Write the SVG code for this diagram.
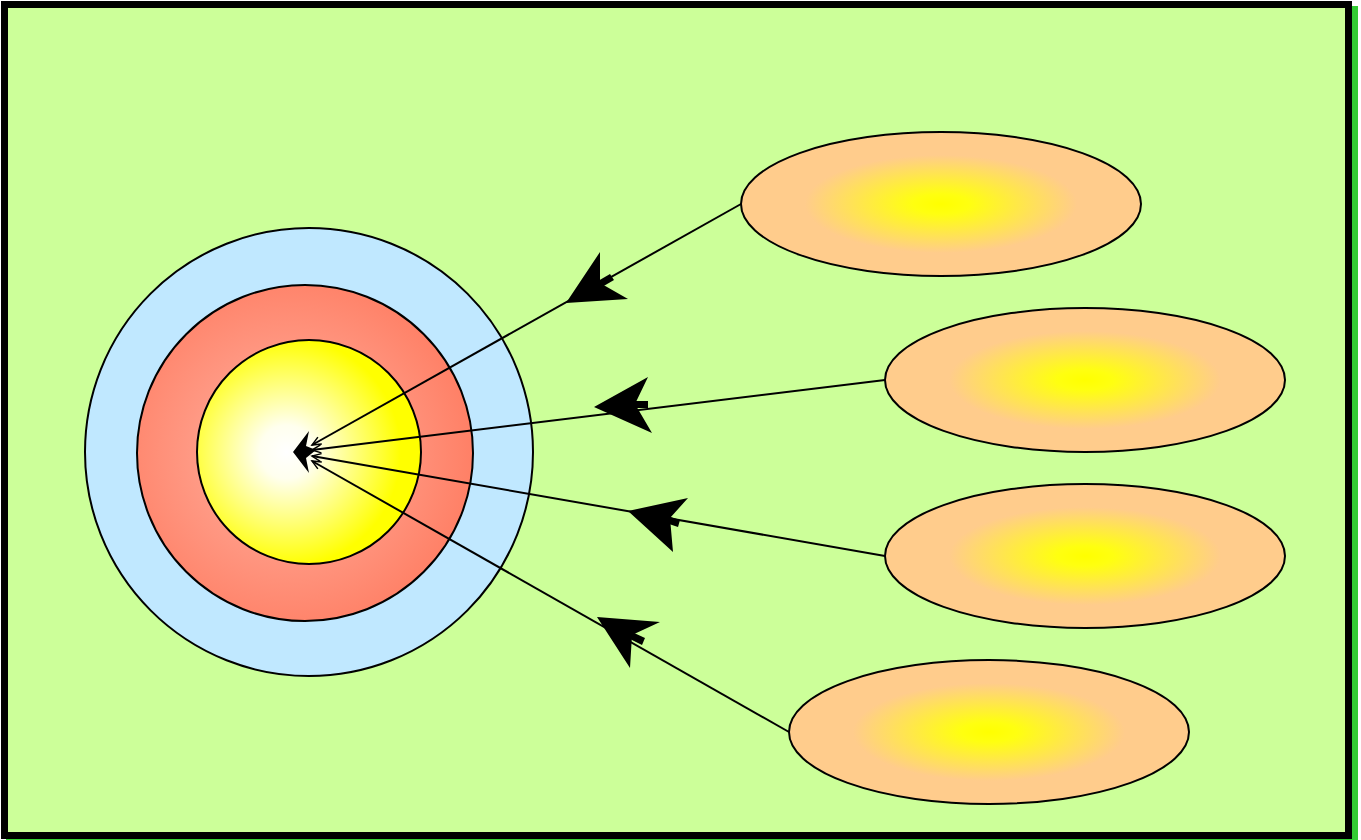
<svg xmlns="http://www.w3.org/2000/svg" width="1361" height="840" viewBox="0 0 1361 840">
<defs>
<radialGradient id="gEll" cx="0.5" cy="0.5" r="0.5">
<stop offset="0" stop-color="#ffff00"/>
<stop offset="0.14" stop-color="#ffff10"/>
<stop offset="0.68" stop-color="#ffcc8c"/>
<stop offset="1" stop-color="#ffcc8c"/>
</radialGradient>
<radialGradient id="gRed" cx="0.45" cy="0.5" r="0.55">
<stop offset="0" stop-color="#ffb4a4"/>
<stop offset="1" stop-color="#ff8066"/>
</radialGradient>
<radialGradient id="gYel" cx="0.4" cy="0.5" r="0.6">
<stop offset="0" stop-color="#ffffff"/>
<stop offset="0.2" stop-color="#ffffee"/>
<stop offset="0.85" stop-color="#ffff00"/>
<stop offset="1" stop-color="#ffff00"/>
</radialGradient>
<marker id="open" viewBox="-10 -6 12 12" refX="0" refY="0" markerWidth="12" markerHeight="12" markerUnits="userSpaceOnUse" orient="auto">
<path d="M -9,-4 L 0,0 L -9,4" fill="none" stroke="#000" stroke-width="1.5"/>
</marker>
</defs>
<style>
.ell{fill:url(#gEll);stroke:#000;stroke-width:2}
.conn{stroke:#000;stroke-width:2;fill:none;marker-end:url(#open)}
.head{fill:#000}
.stub{fill:#000}
</style>
<g id="frame">
<rect x="6" y="6" width="1352" height="840" fill="#33cc33"/>
<rect x="4.5" y="4.5" width="1344" height="831" fill="#ccff99" stroke="#000" stroke-width="7"/>
</g>
<g id="target">
<circle cx="309" cy="452" r="224" fill="#c0e8ff" stroke="#000" stroke-width="2"/>
<circle cx="305" cy="453" r="168" fill="url(#gRed)" stroke="#000" stroke-width="2"/>
<circle cx="309" cy="452" r="112" fill="url(#gYel)" stroke="#000" stroke-width="2"/>
</g>
<g id="e1"><ellipse class="ell" cx="941" cy="204" rx="200" ry="72"/></g>
<g id="e2"><ellipse class="ell" cx="1085" cy="380" rx="200" ry="72"/></g>
<g id="e3"><ellipse class="ell" cx="1085" cy="556" rx="200" ry="72"/></g>
<g id="e4"><ellipse class="ell" cx="989" cy="732" rx="200" ry="72"/></g>
<g id="connectors">
<line class="conn" x1="741" y1="204" x2="312" y2="445"/>
<line class="conn" x1="885" y1="380" x2="312" y2="450"/>
<line class="conn" x1="885" y1="556" x2="312" y2="456"/>
<line class="conn" x1="789" y1="732" x2="312" y2="461"/>
<polygon class="stub" points="598,281 610,274 614,280 602,287"/>
<polygon class="head" points="566,303 600,252 600,283 628,299"/>
<polygon class="stub" points="635,401 648,401 648,408 635,408"/>
<polygon class="head" points="594,407 648,377 635,404 652,433"/>
<polygon class="stub" points="668,516 680,520 678,527 666,523"/>
<polygon class="head" points="628,511 688,498 670,518 673,552"/>
<polygon class="stub" points="632,632 645,638 642,645 630,639"/>
<polygon class="head" points="597,617 660,622 632,635 630,668"/>
<polygon class="head" points="293,452 309,431 306,446 316,450 306,458 309,473"/>
</g>
</svg>
